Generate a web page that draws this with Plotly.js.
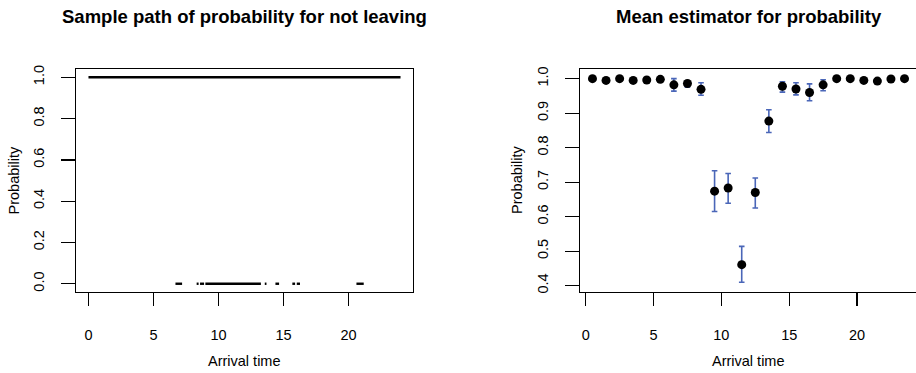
<!DOCTYPE html>
<html>
<head>
<meta charset="utf-8">
<script src="https://cdn.plot.ly/plotly-3.0.1.min.js"></script>
<style>
html, body { margin: 0; padding: 0; overflow: hidden; background: #fff; }
#chart { width: 918px; height: 373px; }
</style>
</head>
<body>
<div id="chart"></div>
<script>
// ---- Data ----
// Left panel: sample path, probability 1 over the whole day, 0 over some intervals
const oneStart = [0];
const oneEnd = [24];
const zeroStart = [6.69, 8.32, 8.58, 8.99, 13.56, 14.38, 15.68, 16.02, 20.61];
const zeroEnd   = [7.20, 8.47, 8.89, 13.26, 13.69, 14.66, 15.89, 16.27, 21.17];

// Right panel: mean estimator per hour with interval
const hours = [0.5, 1.5, 2.5, 3.5, 4.5, 5.5, 6.5, 7.5, 8.5, 9.5, 10.5, 11.5,
               12.5, 13.5, 14.5, 15.5, 16.5, 17.5, 18.5, 19.5, 20.5, 21.5, 22.5, 23.5];
const meanProb = [1.000, 0.995, 1.000, 0.995, 0.996, 0.998, 0.982, 0.986, 0.969, 0.674, 0.683, 0.461,
                  0.670, 0.877, 0.978, 0.970, 0.960, 0.982, 1.000, 1.000, 0.995, 0.993, 0.999, 1.000];
const lowerProb = [1.000, 0.995, 1.000, 0.995, 0.996, 0.998, 0.964, 0.975, 0.952, 0.615, 0.639, 0.410,
                   0.625, 0.844, 0.961, 0.953, 0.936, 0.965, 1.000, 1.000, 0.995, 0.993, 0.999, 1.000];
const upperProb = [1.000, 0.995, 1.000, 0.995, 0.996, 0.998, 1.000, 0.993, 0.988, 0.733, 0.725, 0.514,
                   0.712, 0.910, 0.991, 0.988, 0.985, 0.997, 1.000, 1.000, 0.995, 0.993, 0.999, 1.000];

const xTicks = [0, 5, 10, 15, 20];
const leftYTicks = [0.0, 0.2, 0.4, 0.6, 0.8, 1.0];
const rightYTicks = [0.4, 0.5, 0.6, 0.7, 0.8, 0.9, 1.0];

// ---- Build segment traces ----
function segs(starts, ends, level) {
  const x = [], y = [];
  for (let i = 0; i < starts.length; i++) {
    x.push(starts[i], ends[i], null);
    y.push(level, level, null);
  }
  return {x, y};
}
const s1 = segs(oneStart, oneEnd, 1);
const s0 = segs(zeroStart, zeroEnd, 0);

const W = 918, H = 373;
const px = v => v / W;
const py = v => 1 - v / H;

const traces = [
  { x: s1.x, y: s1.y, xaxis: 'x', yaxis: 'y', mode: 'lines',
    line: {color: '#000', width: 2.7}, hoverinfo: 'skip', showlegend: false },
  { x: s0.x, y: s0.y, xaxis: 'x', yaxis: 'y', mode: 'lines',
    line: {color: '#000', width: 2.4}, hoverinfo: 'skip', showlegend: false },
  { x: hours, y: meanProb, xaxis: 'x2', yaxis: 'y2', mode: 'markers', type: 'scatter',
    marker: {color: '#000', size: 9},
    error_y: { type: 'data', symmetric: false,
      array: upperProb.map((u, i) => u - meanProb[i]),
      arrayminus: meanProb.map((m, i) => m - lowerProb[i]),
      color: '#4A66B8', thickness: 1.6, width: 2.8 },
    showlegend: false }
];

const axisFont = {family: 'Liberation Sans, Arial, sans-serif', size: 14.5, color: '#000'};
const baseX = {
  showgrid: false, zeroline: false, showline: true, mirror: true,
  linecolor: '#000', linewidth: 1.3, ticks: 'outside', ticklen: 13, tickwidth: 1.3,
  tickcolor: '#000', tickfont: axisFont, tickmode: 'array', tickvals: xTicks,
  ticktext: xTicks.map(String), ticklabelstandoff: 16, fixedrange: true
};
const baseY = {
  showgrid: false, zeroline: false, showline: true, mirror: true,
  linecolor: '#000', linewidth: 1.3, ticks: 'outside', ticklen: 14, tickwidth: 1.3,
  tickcolor: '#000', tickfont: axisFont, tickangle: -90, ticklabelstandoff: 11, fixedrange: true
};

const dom = [py(292), py(69)];

const layout = {
  width: W, height: H,
  margin: {l: 0, r: 0, t: 0, b: 0},
  paper_bgcolor: '#fff', plot_bgcolor: '#fff',
  showlegend: false,
  xaxis: Object.assign({}, baseX, {domain: [px(76), px(413)], range: [-0.96, 24.96], anchor: 'y'}),
  yaxis: Object.assign({}, baseY, {domain: dom, range: [-0.04, 1.04], anchor: 'x',
    tickvals: leftYTicks, ticktext: leftYTicks.map(v => v.toFixed(1))}),
  xaxis2: Object.assign({}, baseX, {domain: [px(580), px(917)], range: [-0.42, 24.42], anchor: 'y2'}),
  yaxis2: Object.assign({}, baseY, {domain: dom, range: [0.3817, 1.028], anchor: 'x2',
    tickvals: rightYTicks, ticktext: rightYTicks.map(v => v.toFixed(1))}),
  annotations: [
    { text: '<b>Sample path of probability for not leaving</b>', xref: 'paper', yref: 'paper',
      x: px(244.5), y: py(16), xanchor: 'center', yanchor: 'middle', showarrow: false,
      font: {family: 'Liberation Sans, Arial, sans-serif', size: 18.5, color: '#000'} },
    { text: '<b>Mean estimator for probability</b>', xref: 'paper', yref: 'paper',
      x: px(748.5), y: py(16), xanchor: 'center', yanchor: 'middle', showarrow: false,
      font: {family: 'Liberation Sans, Arial, sans-serif', size: 18.5, color: '#000'} },
    { text: 'Arrival time', xref: 'paper', yref: 'paper', x: px(244.5), y: py(361),
      xanchor: 'center', yanchor: 'middle', showarrow: false, font: axisFont },
    { text: 'Arrival time', xref: 'paper', yref: 'paper', x: px(748.5), y: py(361),
      xanchor: 'center', yanchor: 'middle', showarrow: false, font: axisFont },
    { text: 'Probability', xref: 'paper', yref: 'paper', x: px(13), y: py(180.5),
      xanchor: 'center', yanchor: 'middle', textangle: -90, showarrow: false, font: axisFont },
    { text: 'Probability', xref: 'paper', yref: 'paper', x: px(516.5), y: py(180.5),
      xanchor: 'center', yanchor: 'middle', textangle: -90, showarrow: false, font: axisFont }
  ]
};

Plotly.newPlot('chart', traces, layout, {displayModeBar: false, staticPlot: true});
</script>
</body>
</html>
